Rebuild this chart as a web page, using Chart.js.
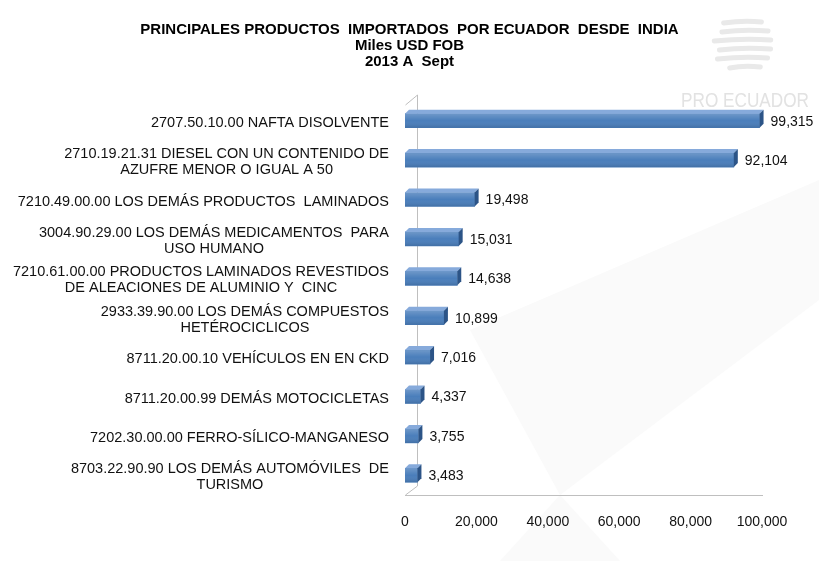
<!DOCTYPE html>
<html>
<head>
<meta charset="utf-8">
<script src="https://cdn.jsdelivr.net/npm/chart.js@4.4.1/dist/chart.umd.min.js"></script>
<style>
    html, body { margin: 0; padding: 0; background: #fff; }
    #chart { display: block; }
</style>
</head>
<body>
<canvas id="chart" width="819" height="561"></canvas>
<script>
const titleLines = [
    'PRINCIPALES PRODUCTOS  IMPORTADOS  POR ECUADOR  DESDE  INDIA',
    'Miles USD FOB',
    '2013 A  Sept',
];

const categories = [
    ['2707.50.10.00 NAFTA DISOLVENTE'],
    ['2710.19.21.31 DIESEL CON UN CONTENIDO DE', 'AZUFRE MENOR O IGUAL A 50'],
    ['7210.49.00.00 LOS DEMÁS PRODUCTOS  LAMINADOS'],
    ['3004.90.29.00 LOS DEMÁS MEDICAMENTOS  PARA', 'USO HUMANO'],
    ['7210.61.00.00 PRODUCTOS LAMINADOS REVESTIDOS', 'DE ALEACIONES DE ALUMINIO Y  CINC'],
    ['2933.39.90.00 LOS DEMÁS COMPUESTOS', 'HETÉROCICLICOS'],
    ['8711.20.00.10 VEHÍCULOS EN EN CKD'],
    ['8711.20.00.99 DEMÁS MOTOCICLETAS'],
    ['7202.30.00.00 FERRO-SÍLICO-MANGANESO'],
    ['8703.22.90.90 LOS DEMÁS AUTOMÓVILES  DE', 'TURISMO'],
];

const values = [99315, 92104, 19498, 15031, 14638, 10899, 7016, 4337, 3755, 3483];

const xTicks = [0, 20000, 40000, 60000, 80000, 100000];

const FONT = "'Liberation Sans', Arial, sans-serif";
const fmt = (v) => v.toLocaleString('en-US');

// background decoration: faint shapes, logo and "PRO ECUADOR" mark
const backdrop = {
    id: 'backdrop',
    beforeDraw(chart) {
        const ctx = chart.ctx;
        ctx.save();
        ctx.fillStyle = '#ffffff';
        ctx.fillRect(0, 0, chart.width, chart.height);

        ctx.fillStyle = '#fafafa';
        ctx.beginPath();
        ctx.moveTo(470, 330);
        ctx.lineTo(560, 495);
        ctx.lineTo(819, 300);
        ctx.lineTo(819, 180);
        ctx.closePath();
        ctx.fill();
        ctx.beginPath();
        ctx.moveTo(560, 495);
        ctx.lineTo(620, 561);
        ctx.lineTo(500, 561);
        ctx.closePath();
        ctx.fill();

        // striped globe
        ctx.strokeStyle = '#e9e9e9';
        ctx.lineCap = 'round';
        ctx.lineWidth = 5;
        const cx = 744, cy = 44, r = 30;
        [-22, -13, -4, 5, 14, 23].forEach((dy, i) => {
            const half = Math.sqrt(Math.max(r * r - dy * dy, 60));
            ctx.beginPath();
            ctx.moveTo(cx - half + (i % 2) * 5, cy + dy + 1);
            ctx.quadraticCurveTo(cx, cy + dy - 2, cx + half - 3, cy + dy);
            ctx.stroke();
        });

        ctx.fillStyle = '#e2e2e2';
        ctx.font = "21px 'Liberation Sans', sans-serif";
        ctx.textAlign = 'left';
        ctx.textBaseline = 'alphabetic';
        const w = ctx.measureText('PRO ECUADOR').width;
        ctx.translate(681, 107);
        ctx.scale(128 / w, 1);
        ctx.fillText('PRO ECUADOR', 0, 0);
        ctx.restore();
    },
};

// 3-D wall, bar faces, value labels and category labels
const threeD = {
    id: 'threeD',
    beforeDatasetsDraw(chart) {
        const ctx = chart.ctx;
        const a = chart.chartArea;
        ctx.save();
        ctx.strokeStyle = '#bfbfbf';
        ctx.lineWidth = 1;
        ctx.beginPath();
        ctx.moveTo(a.left + 0.5, a.top + 4);
        ctx.lineTo(a.left + 12.5, a.top - 6);
        ctx.lineTo(a.left + 12.5, a.bottom - 9);
        ctx.lineTo(a.left + 0.5, a.bottom);
        ctx.stroke();
        ctx.restore();
    },
    afterDatasetsDraw(chart) {
        const ctx = chart.ctx;
        const meta = chart.getDatasetMeta(0);
        const dx = 4, dy = 4;
        ctx.save();
        meta.data.forEach((bar, i) => {
            const top = bar.y - bar.height / 2;
            const bottom = bar.y + bar.height / 2;
            const g = ctx.createLinearGradient(0, top, 0, bottom);
            g.addColorStop(0, 'rgba(255,255,255,0.2)');
            g.addColorStop(0.5, 'rgba(255,255,255,0)');
            g.addColorStop(1, 'rgba(0,0,0,0.12)');
            ctx.fillStyle = g;
            ctx.fillRect(bar.base, top, bar.x - bar.base, bottom - top);

            ctx.fillStyle = '#86aadb';
            ctx.beginPath();
            ctx.moveTo(bar.base, top);
            ctx.lineTo(bar.x, top);
            ctx.lineTo(bar.x + dx, top - dy);
            ctx.lineTo(bar.base + dx, top - dy);
            ctx.closePath();
            ctx.fill();

            ctx.fillStyle = '#2c5487';
            ctx.beginPath();
            ctx.moveTo(bar.x, top);
            ctx.lineTo(bar.x + dx, top - dy);
            ctx.lineTo(bar.x + dx, bottom - dy);
            ctx.lineTo(bar.x, bottom);
            ctx.closePath();
            ctx.fill();

            ctx.fillStyle = '#111';
            ctx.font = '14px ' + FONT;
            ctx.textAlign = 'left';
            ctx.textBaseline = 'middle';
            ctx.fillText(fmt(values[i]), bar.x + dx + 7, bar.y + 1);
        });

        const yScale = chart.scales.y;
        const right = yScale.right - 16;
        const lineH = 16;
        ctx.font = '14.5px ' + FONT;
        ctx.fillStyle = '#111';
        ctx.textAlign = 'center';
        ctx.textBaseline = 'middle';
        categories.forEach((lines, i) => {
            const y = yScale.getPixelForValue(i) + 2;
            const widest = Math.max(...lines.map((t) => ctx.measureText(t).width));
            const cx = right - widest / 2;
            lines.forEach((t, j) => {
                ctx.fillText(t, cx, y + (j - (lines.length - 1) / 2) * lineH);
            });
        });
        ctx.restore();
    },
};

new Chart(document.getElementById('chart'), {
    type: 'bar',
    data: {
        labels: categories,
        datasets: [
            {
                data: values,
                backgroundColor: '#4a7ebb',
                borderWidth: 0,
                barThickness: 14,
            },
        ],
    },
    options: {
        indexAxis: 'y',
        responsive: false,
        animation: false,
        devicePixelRatio: 1,
        layout: { padding: 0 },
        scales: {
            x: {
                min: 0,
                max: 100000,
                afterBuildTicks: (scale) => {
                    scale.ticks = xTicks.map((v) => ({ value: v }));
                },
                afterFit: (scale) => {
                    scale.height = 66;
                },
                grid: { display: false, drawTicks: false },
                border: { color: '#bfbfbf' },
                ticks: {
                    padding: 19,
                    maxRotation: 0,
                    color: '#111',
                    font: { family: FONT, size: 14 },
                    callback: (value) => fmt(value),
                },
            },
            y: {
                afterFit: (scale) => {
                    scale.width = 405;
                },
                grid: { display: false, drawTicks: false },
                border: { display: false },
                ticks: { display: false },
            },
            // empty right-hand strip, room for the value labels
            yRight: {
                type: 'linear',
                position: 'right',
                afterFit: (scale) => {
                    scale.width = 57;
                },
                grid: { display: false, drawTicks: false },
                border: { display: false },
                ticks: { display: false },
            },
        },
        plugins: {
            legend: { display: false },
            tooltip: { enabled: false },
            title: {
                display: true,
                text: titleLines,
                color: '#000',
                font: { family: FONT, size: 15, weight: 'bold', lineHeight: '16px' },
                padding: { top: 22, bottom: 31 },
            },
        },
    },
    plugins: [backdrop, threeD],
});
</script>
</body>
</html>
